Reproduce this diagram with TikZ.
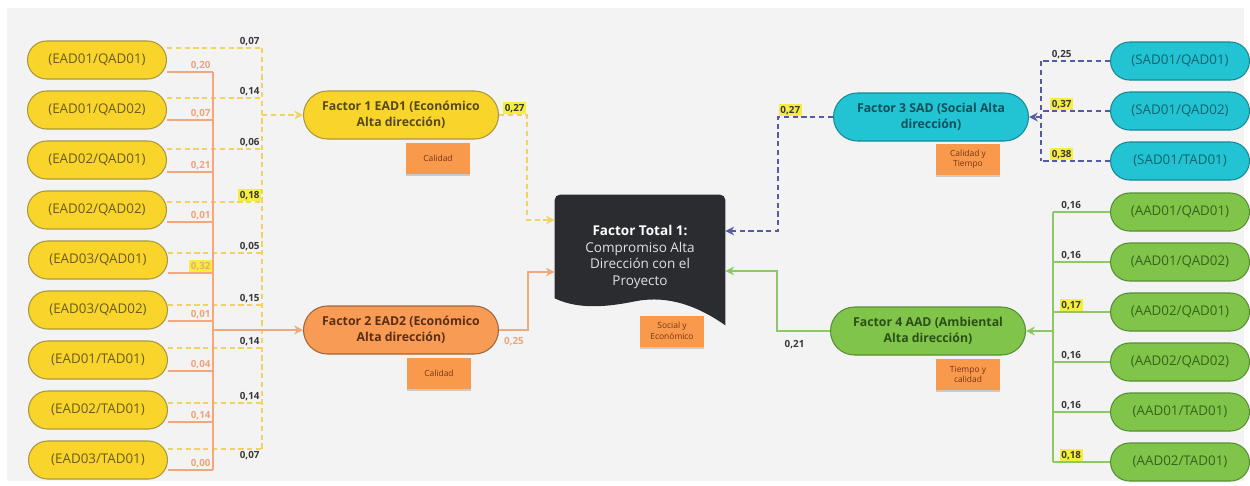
\documentclass[tikz,border=0pt]{standalone}
\usepackage{fontspec}
\setmainfont{Open Sans}
\usetikzlibrary{shapes,arrows,arrows.meta,positioning,calc,shadows}

\definecolor{bggray}{HTML}{F3F3F3}
\definecolor{ylwfill}{HTML}{F9D52C}
\definecolor{ylwdraw}{HTML}{A8983A}
\definecolor{ylwtext}{HTML}{6A5C1C}
\definecolor{orgfill}{HTML}{F89C55}
\definecolor{orgdraw}{HTML}{A0643A}
\definecolor{orgtext}{HTML}{5A2E14}
\definecolor{cyafill}{HTML}{22C3D2}
\definecolor{cyadraw}{HTML}{178A95}
\definecolor{cyatext}{HTML}{146470}
\definecolor{grnfill}{HTML}{80C44A}
\definecolor{grndraw}{HTML}{558F33}
\definecolor{grntext}{HTML}{36641C}
\definecolor{ylwline}{HTML}{F2D263}
\definecolor{orgline}{HTML}{F2A77C}
\definecolor{bluline}{HTML}{555AA5}
\definecolor{grnline}{HTML}{8DC867}
\definecolor{lbltext}{HTML}{383838}
\definecolor{orglbl}{HTML}{EFA47A}
\definecolor{hlyellow}{HTML}{F6EE3C}
\definecolor{totalbg}{HTML}{2A2C30}
\definecolor{notefill}{HTML}{F8994B}
\definecolor{notetext}{HTML}{7A3418}

\pgfdeclarelayer{background}
\pgfdeclarelayer{wires}
\pgfsetlayers{background,wires,main}

\begin{document}
\begin{tikzpicture}[
    x=0.02cm, y=-0.02cm,
    % blocks
    leaf/.style={
        rectangle,
        rounded corners=0.38cm,
        draw,
        line width=0.6pt,
        minimum width=2.78cm,
        minimum height=0.76cm,
        inner sep=1pt,
        font=\fontsize{7.6}{9}\selectfont
    },
    leaf_e/.style={leaf, fill=ylwfill, draw=ylwdraw, text=ylwtext},
    leaf_s/.style={leaf, fill=cyafill, draw=cyadraw, text=cyatext},
    leaf_a/.style={leaf, fill=grnfill, draw=grndraw, text=grntext},
    factor/.style={
        rectangle,
        rounded corners=0.48cm,
        draw,
        line width=0.6pt,
        minimum width=3.9cm,
        minimum height=0.96cm,
        inner sep=1pt,
        align=center,
        font=\bfseries\fontsize{7}{9}\selectfont
    },
    note_block/.style={
        rectangle,
        fill=notefill,
        text=notetext,
        minimum width=1.28cm,
        minimum height=0.62cm,
        inner sep=1pt,
        align=center,
        font=\fontsize{4.8}{6}\selectfont,
        drop shadow={shadow xshift=0pt, shadow yshift=-1.2pt, opacity=0.35}
    },
    wt/.style={font=\bfseries\fontsize{5.6}{6}\selectfont, text=lbltext, inner sep=1pt},
    wt_o/.style={wt, text=orglbl},
    hl/.style={fill=hlyellow},
    % connectors
    tip/.style={-{Stealth[length=5pt, width=5pt]}},
    yline/.style={draw=ylwline, line width=0.8pt, dash pattern=on 3pt off 2pt},
    oline/.style={draw=orgline, line width=0.8pt},
    bline/.style={draw=bluline, line width=0.8pt, dash pattern=on 3pt off 2pt},
    gline/.style={draw=grnline, line width=0.8pt}
]
\useasboundingbox (0,0) rectangle (1250,485);

% Left leaves
\node[leaf_e] (e1) at (97,60) {(EAD01/QAD01)};
\node[leaf_e] (e2) at (97,110) {(EAD01/QAD02)};
\node[leaf_e] (e3) at (97,160) {(EAD02/QAD01)};
\node[leaf_e] (e4) at (97,210) {(EAD02/QAD02)};
\node[leaf_e] (e5) at (98,260) {(EAD03/QAD01)};
\node[leaf_e] (e6) at (98,310) {(EAD03/QAD02)};
\node[leaf_e] (e7) at (98,360) {(EAD01/TAD01)};
\node[leaf_e] (e8) at (98,410) {(EAD02/TAD01)};
\node[leaf_e] (e9) at (98,460) {(EAD03/TAD01)};

% Right leaves
\node[leaf_s] (s1) at (1180,61) {(SAD01/QAD01)};
\node[leaf_s] (s2) at (1180,111) {(SAD01/QAD02)};
\node[leaf_s] (s3) at (1180,161) {(SAD01/TAD01)};
\node[leaf_a] (a1) at (1180,212) {(AAD01/QAD01)};
\node[leaf_a] (a2) at (1180,262) {(AAD01/QAD02)};
\node[leaf_a] (a3) at (1180,312) {(AAD02/QAD01)};
\node[leaf_a] (a4) at (1180,362) {(AAD02/QAD02)};
\node[leaf_a] (a5) at (1180,412) {(AAD01/TAD01)};
\node[leaf_a] (a6) at (1180,462) {(AAD02/TAD01)};

% Factors
\node[factor, fill=ylwfill, draw=ylwdraw, text=ylwtext!80!black] (f1) at (401,115) {Factor 1 EAD1 (Económico\\Alta dirección)};
\node[factor, fill=orgfill, draw=orgdraw, text=orgtext] (f2) at (401,330) {Factor 2 EAD2 (Económico\\Alta dirección)};
\node[factor, fill=cyafill, draw=cyadraw, text=cyatext!80!black] (f3) at (931,117) {Factor 3 SAD (Social Alta\\dirección)};
\node[factor, fill=grnfill, draw=grndraw, text=grntext!80!black] (f4) at (928,331) {Factor 4 AAD (Ambiental\\Alta dirección)};

% Total
\node[minimum width=3.4cm, minimum height=2.48cm, align=center, text=white!88!black,
      font=\fontsize{7.7}{9.4}\selectfont] (total) at (640,257)
      {{\bfseries\color{white}Factor Total 1:}\\Compromiso Alta\\Dirección con el\\Proyecto};

% Notes
\node[note_block, below=0.06cm of f1, xshift=0.74cm] (n1) {Calidad};
\node[note_block, below=0.06cm of f2, xshift=0.76cm] (n2) {Calidad};
\node[note_block, below=0.04cm of f3, xshift=0.74cm] (n3) {Calidad y\\Tiempo};
\node[note_block, below=0.06cm of f4, xshift=0.8cm] (n4) {Tiempo y\\calidad};
\node[note_block] (n5) at (672,331) {Social y\\Económico};

\begin{pgfonlayer}{background}
\fill[bggray] (7,8) rectangle (1244,481);
\end{pgfonlayer}

\begin{pgfonlayer}{wires}
% document shape of the total
\fill[totalbg] ($(total.south west)+(0,-21)$) [rounded corners=3pt] -- (total.north west)
    -- (total.north east) [sharp corners] -- ($(total.south east)+(0,6)$)
    .. controls ($(total.south)+(50,-19)$) and ($(total.south)+(20,-23)$) .. ($(total.south)+(-5,-18)$)
    .. controls ($(total.south)+(-30,-13)$) and ($(total.south)+(-60,-9)$) .. ($(total.south west)+(0,-21)$) -- cycle;

% Yellow (dashed) loads to factor 1
\coordinate (ybus) at (262,115);
\draw[yline] ($(e1.east)+(0,-12)$) -- ($(e1.east -| ybus)+(0,-12)$) node[wt, above left] {0,07};
\draw[yline] ($(e2.east)+(0,-12)$) -- ($(e2.east -| ybus)+(0,-12)$) node[wt, above left] {0,14};
\draw[yline] ($(e3.east)+(0,-11)$) -- ($(e3.east -| ybus)+(0,-11)$) node[wt, above left] {0,06};
\draw[yline] ($(e4.east)+(0,-8)$) -- ($(e4.east -| ybus)+(0,-8)$) node[wt, hl, above left] {0,18};
\draw[yline] ($(e5.east)+(0,-7)$) -- ($(e5.east -| ybus)+(0,-7)$) node[wt, above left] {0,05};
\draw[yline] ($(e6.east)+(0,-5)$) -- ($(e6.east -| ybus)+(0,-5)$) node[wt, above left] {0,15};
\draw[yline] ($(e7.east)+(0,-12)$) -- ($(e7.east -| ybus)+(0,-12)$) node[wt, above left] {0,14};
\draw[yline] ($(e8.east)+(0,-7)$) -- ($(e8.east -| ybus)+(0,-7)$) node[wt, above left] {0,14};
\draw[yline] ($(e9.east)+(0,-11)$) -- ($(e9.east -| ybus)+(0,-11)$) node[wt, below left] {0,07};
\draw[yline] ($(e1.east -| ybus)+(0,-12)$) -- ($(e9.east -| ybus)+(0,-11)$);
\draw[yline, tip] (ybus) -- (f1.west);

% Orange loads to factor 2
\coordinate (obus) at (213,330);
\draw[oline] ($(e1.east)+(0,12)$) -- ($(e1.east -| obus)+(0,12)$) node[wt_o, above left] {0,20};
\draw[oline] ($(e2.east)+(0,10)$) -- ($(e2.east -| obus)+(0,10)$) node[wt_o, above left] {0,07};
\draw[oline] ($(e3.east)+(0,12)$) -- ($(e3.east -| obus)+(0,12)$) node[wt_o, above left] {0,21};
\draw[oline] ($(e4.east)+(0,12)$) -- ($(e4.east -| obus)+(0,12)$) node[wt_o, above left] {0,01};
\draw[oline] ($(e5.east)+(0,13)$) -- ($(e5.east -| obus)+(0,13)$) node[wt_o, hl, above left] {0,32};
\draw[oline] ($(e6.east)+(0,11)$) -- ($(e6.east -| obus)+(0,11)$) node[wt_o, above left] {0,01};
\draw[oline] ($(e7.east)+(0,11)$) -- ($(e7.east -| obus)+(0,11)$) node[wt_o, above left] {0,04};
\draw[oline] ($(e8.east)+(0,12)$) -- ($(e8.east -| obus)+(0,12)$) node[wt_o, above left] {0,14};
\draw[oline] ($(e9.east)+(0,10)$) -- ($(e9.east -| obus)+(0,10)$) node[wt_o, above left] {0,00};
\draw[oline] ($(e1.east -| obus)+(0,12)$) -- ($(e9.east -| obus)+(0,10)$);
\draw[oline, tip] (obus) -- (f2.west);

% Blue (dashed) loads to factor 3
\coordinate (sbus) at (1041,117);
\draw[bline] (s1.west) -- (s1.west -| sbus) node[wt, pos=0.7, above] {0,25};
\draw[bline] (s2.west) -- (s2.west -| sbus) node[wt, hl, pos=0.7, above] {0,37};
\draw[bline] (s3.west) -- (s3.west -| sbus) node[wt, hl, pos=0.7, above] {0,38};
\draw[bline] (s1.west -| sbus) -- (s3.west -| sbus);
\draw[bline, tip] (sbus) -- (f3.east);

% Green loads to factor 4
\coordinate (abus) at (1053,331);
\draw[gline] (a1.west) -- (a1.west -| abus) node[wt, pos=0.68, above] {0,16};
\draw[gline] (a2.west) -- (a2.west -| abus) node[wt, pos=0.68, above] {0,16};
\draw[gline] (a3.west) -- (a3.west -| abus) node[wt, hl, pos=0.68, above] {0,17};
\draw[gline] (a4.west) -- (a4.west -| abus) node[wt, pos=0.68, above] {0,16};
\draw[gline] (a5.west) -- (a5.west -| abus) node[wt, pos=0.68, above] {0,16};
\draw[gline] (a6.west) -- (a6.west -| abus) node[wt, hl, pos=0.68, above] {0,18};
\draw[gline] (a1.west -| abus) -- (a6.west -| abus);
\draw[gline, tip] (abus) -- (f4.east);

% Factors to the total
\draw[yline, tip] (f1.east) -- ++(28,0) node[wt, hl, above left] {0,27} |- ($(total.west)+(0,-37)$);
\draw[oline, tip] (f2.east) -- ++(29,0) node[wt_o, below left=3pt and 1pt] {0,25} |- ($(total.west)+(0,15)$);
\draw[bline, tip] (f3.west) -- ++(-55,0) node[wt, hl, above right] {0,27} |- ($(total.east)+(0,-26)$);
\draw[gline, tip] (f4.west) -- ++(-53,0) node[wt, below right=4pt and 3pt] {0,21} |- ($(total.east)+(0,14)$);
\end{pgfonlayer}

\end{tikzpicture}
\end{document}
